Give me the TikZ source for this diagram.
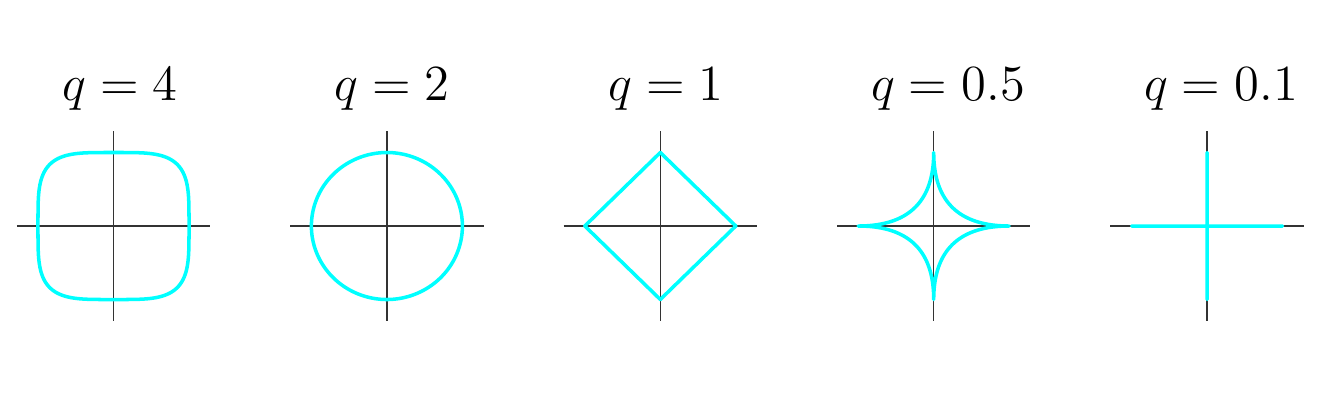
\documentclass[tikz,border=0pt]{standalone}
\usepackage{amsmath}
\usepackage{xcolor}
\usepackage{tikz}
\definecolor{aqua}{RGB}{0,255,255}
\tikzset{
  axisline/.style={black!80, line width=0.4pt},
  ballcurve/.style={aqua, line width=1pt, line join=round},
  qlabel/.style={font=\Large, anchor=base, inner sep=0pt},
}

\begin{document}
\begin{tikzpicture}
\useasboundingbox (0,0) rectangle (13.32,4.03);
\def\qs{{"4","2","1","0.5","0.1"}}
\def\ex{{0.5,1,2,4,20}}
\def\lx{{1.20,3.92,6.66,9.48,12.21}}
\foreach \i in {0,...,4} {
    \pgfmathsetmacro{\cx}{1.135+\i*2.734}
    \pgfmathsetmacro{\e}{\ex[\i]}
    \pgfmathsetmacro{\tx}{\lx[\i]}
    \pgfmathsetmacro{\qq}{\qs[\i]}
    % title of each panel
    \node[qlabel] (lbl\i) at (\tx, 3.03) {$q = \qq$};
    \begin{scope}[shift={(\cx,1.77)}, x=0.755cm, y=0.735cm]
        \draw[axisline] (-1.28,0) -- (1.28,0);
        \draw[axisline] (0,-1.29) -- (0,1.29);
        \draw[ballcurve] plot[domain=0.5:360.5, samples=361, smooth=false, variable=\t]
            ({sign(cos(\t))*abs(cos(\t))^\e}, {sign(sin(\t))*abs(sin(\t))^\e}) -- cycle;
    \end{scope}
}
\end{tikzpicture}
\end{document}
